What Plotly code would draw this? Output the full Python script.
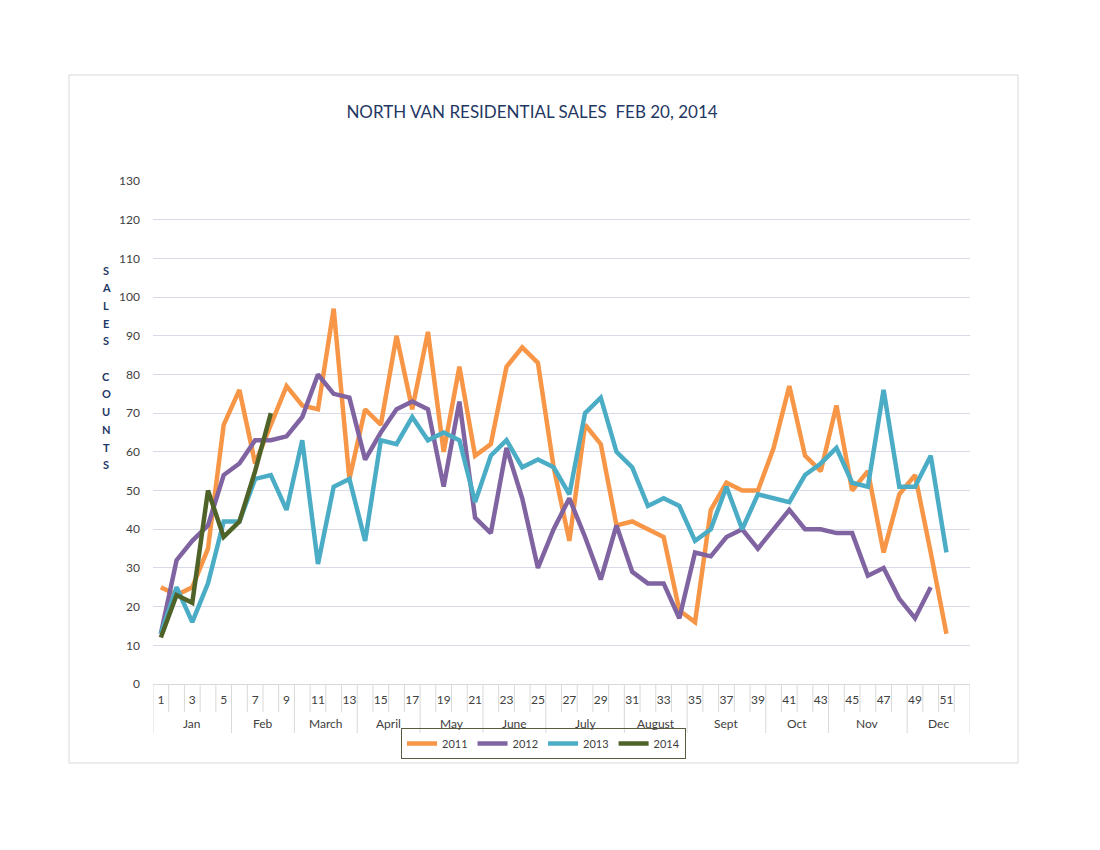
import plotly.graph_objects as go

# ---- data ----
weeks = list(range(1, 53))
month_names = ["Jan", "Feb", "March", "April", "May", "June", "July", "August", "Sept", "Oct", "Nov", "Dec"]
month_weeks = [5, 4, 4, 4, 4, 4, 5, 4, 5, 4, 5, 4]

sales_2011 = [25, 23, 25, 35, 67, 76, 57, 67, 77, 72, 71, 97, 53, 71, 67, 90, 71, 91, 60, 82,
              59, 62, 82, 87, 83, 56, 37, 67, 62, 41, 42, 40, 38, 19, 16, 45, 52, 50, 50, 61,
              77, 59, 55, 72, 50, 55, 34, 49, 54, 34, 13]
sales_2012 = [13, 32, 37, 41, 54, 57, 63, 63, 64, 69, 80, 75, 74, 58, 65, 71, 73, 71, 51, 73,
              43, 39, 61, 48, 30, 40, 48, 38, 27, 41, 29, 26, 26, 17, 34, 33, 38, 40, 35, 40,
              45, 40, 40, 39, 39, 28, 30, 22, 17, 25]
sales_2013 = [13, 25, 16, 26, 42, 42, 53, 54, 45, 63, 31, 51, 53, 37, 63, 62, 69, 63, 65, 63,
              47, 59, 63, 56, 58, 56, 49, 70, 74, 60, 56, 46, 48, 46, 37, 40, 51, 40, 49, 48,
              47, 54, 57, 61, 52, 51, 76, 51, 51, 59, 34]
sales_2014 = [12, 23, 21, 50, 38, 42, 55, 70]

series_names = ["2011", "2012", "2013", "2014"]
series_values = [sales_2011, sales_2012, sales_2013, sales_2014]
series_colors = ["#F79646", "#8064A2", "#4BACC6", "#4F6228"]

y_ticks = list(range(0, 131, 10))
title_text = "NORTH VAN RESIDENTIAL SALES  FEB 20, 2014"
y_title_letters = ["S", "A", "L", "E", "S", "", "C", "O", "U", "N", "T", "S"]

# ---- geometry (pixels, page coordinates; page body adds an 8px offset) ----
W, H = 1100, 850
OFF = 8
PLOT_LEFT, PLOT_RIGHT, PLOT_TOP, PLOT_BOTTOM = 153, 970, 181, 684
PW, PH = PLOT_RIGHT - PLOT_LEFT, PLOT_BOTTOM - PLOT_TOP
L = PLOT_LEFT - OFF
T = PLOT_TOP - OFF
R = W - L - PW
B = H - T - PH

def px_x(x):
    return (x - PLOT_LEFT) / PW

def px_y(y):
    return (PLOT_BOTTOM - y) / PH

FONT = "Lato, 'Open Sans', sans-serif"
GRID = "#D9DAE8"
TICKLINE = "#D9D9D9"

fig = go.Figure()
for name, vals, col in zip(series_names, series_values, series_colors):
    fig.add_trace(go.Scatter(
        x=weeks[:len(vals)], y=vals, mode="lines", name=name,
        line=dict(color=col, width=4.5, shape="linear"),
    ))

shapes = []
annotations = []

# week boundary ticks and month dividers below the axis
month_bounds = []
acc = 0
for n in month_weeks:
    month_bounds.append(acc + 0.5)
    acc += n
month_bounds.append(acc + 0.5)
for w in range(0, len(weeks) + 1):
    b = w + 0.5
    is_month = b in month_bounds
    shapes.append(dict(type="line", xref="x", yref="paper", x0=b, x1=b,
                       y0=0, y1=px_y(733 if is_month else 712),
                       line=dict(color=TICKLINE, width=1)))

# month labels
start = 1
for name, n in zip(month_names, month_weeks):
    center = start + (n - 1) / 2
    annotations.append(dict(x=center, y=px_y(723), xref="x", yref="paper",
                            text=name, showarrow=False, xanchor="center", yanchor="middle",
                            font=dict(family=FONT, size=12, color="#404040")))
    start += n

# stacked y-axis title letters
for i, ch in enumerate(y_title_letters):
    if ch:
        annotations.append(dict(x=px_x(106), y=px_y(270 + 17.7 * i), xref="paper", yref="paper",
                                text="<b>" + ch + "</b>", showarrow=False,
                                xanchor="center", yanchor="middle",
                                font=dict(family=FONT, size=11, color="#1F3864")))

# outer chart border
shapes.append(dict(type="rect", xref="paper", yref="paper",
                   x0=px_x(69), x1=px_x(1018), y0=px_y(763), y1=px_y(75),
                   line=dict(color="#D9D9D9", width=1), fillcolor="rgba(0,0,0,0)", layer="below"))

fig.update_layout(
    width=W, height=H,
    margin=dict(l=L, r=R, t=T, b=B),
    paper_bgcolor="white", plot_bgcolor="white",
    title=dict(text=title_text, x=(532 - OFF) / W, y=1 - (112 - OFF) / H,
               xref="container", yref="container",
               xanchor="center", yanchor="middle",
               font=dict(family=FONT, size=17, color="#1F3864")),
    xaxis=dict(range=[0.5, 52.5], tickmode="array",
               tickvals=[w for w in weeks if w % 2 == 1],
               ticktext=[str(w) for w in weeks if w % 2 == 1],
               showgrid=False, zeroline=False, showline=True, linecolor=TICKLINE,
               ticks="", ticklabelstandoff=5,
               tickfont=dict(family=FONT, size=12, color="#404040")),
    yaxis=dict(range=[0, 130], tickmode="array", tickvals=y_ticks,
               showgrid=True, gridcolor=GRID, gridwidth=1, zeroline=False, showline=False,
               ticks="", ticklabelstandoff=12,
               tickfont=dict(family=FONT, size=12, color="#404040")),
    legend=dict(orientation="h", x=px_x(543.5), y=px_y(743.5), xanchor="center", yanchor="middle",
                bordercolor="#5A5A3C", borderwidth=1, bgcolor="rgba(0,0,0,0)",
                font=dict(family=FONT, size=11, color="#404040"),
                itemwidth=30, tracegroupgap=0),
    shapes=shapes,
    annotations=annotations,
    showlegend=True,
)

fig.write_html("out.html")
